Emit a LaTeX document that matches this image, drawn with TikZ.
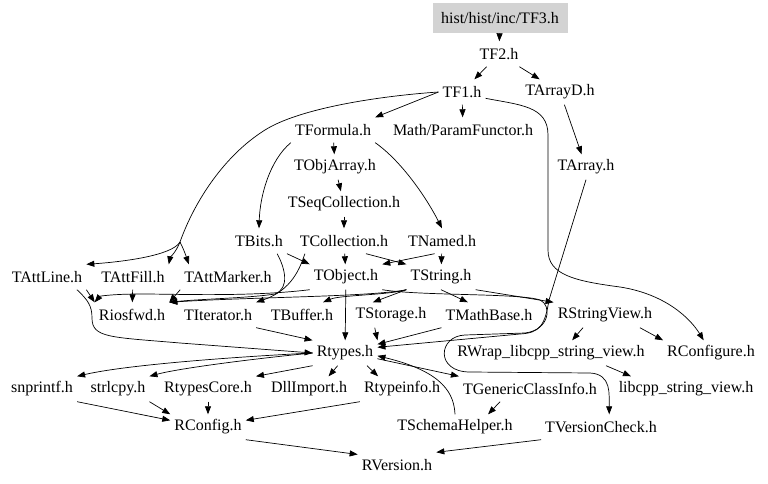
\documentclass[tikz,border=0pt]{standalone}
\usepackage{fontspec}
\setmainfont{Liberation Serif}
\usetikzlibrary{arrows.meta}
\definecolor{rootgray}{RGB}{211,211,211}

\begin{document}
\begin{tikzpicture}[x=1pt, y=-1pt,
  hdr/.style={font=\fontsize{16}{19}\selectfont, minimum height=25pt, inner xsep=4pt, inner ysep=0pt},
  roothdr/.style={hdr, fill=rootgray, minimum width=135pt, minimum height=30pt},
  dep/.style={-{Triangle[length=8pt,width=6pt]}, line width=0.7pt}]
  \useasboundingbox (0,0) rectangle (768,484);
  \fill[white] (0,0) rectangle (768,484);

  % headers
  \node[roothdr] (tfthree) at (500,18) {hist/hist/inc/TF3.h};
  \node[hdr] (tftwo) at (499,54) {TF2.h};
  \node[hdr] (tfone) at (462,92) {TF1.h};
  \node[hdr] (tarrayd) at (560,92) {TArrayD.h};
  \node[hdr] (tformula) at (333,130) {TFormula.h};
  \node[hdr] (paramfunctor) at (463,130) {Math/ParamFunctor.h};
  \node[hdr] (tobjarray) at (335,167) {TObjArray.h};
  \node[hdr] (tarray) at (586,167) {TArray.h};
  \node[hdr] (tseqcoll) at (344,204) {TSeqCollection.h};
  \node[hdr] (tbits) at (259,241) {TBits.h};
  \node[hdr] (tcoll) at (344,241) {TCollection.h};
  \node[hdr] (tnamed) at (442,241) {TNamed.h};
  \node[hdr] (tattline) at (47,277) {TAttLine.h};
  \node[hdr] (tattfill) at (133,277) {TAttFill.h};
  \node[hdr] (tattmarker) at (228,277) {TAttMarker.h};
  \node[hdr] (tobject) at (346,277) {TObject.h};
  \node[hdr] (tstring) at (441,277) {TString.h};
  \node[hdr] (riosfwd) at (132,315) {Riosfwd.h};
  \node[hdr] (titerator) at (218,315) {TIterator.h};
  \node[hdr] (tbuffer) at (302,315) {TBuffer.h};
  \node[hdr] (tstorage) at (391,315) {TStorage.h};
  \node[hdr] (tmathbase) at (489,315) {TMathBase.h};
  \node[hdr] (rstringview) at (605,315) {RStringView.h};
  \node[hdr] (rtypes) at (345,353) {Rtypes.h};
  \node[hdr] (rwrap) at (551,353) {RWrap\_libcpp\_string\_view.h};
  \node[hdr] (rconfigure) at (711,353) {RConfigure.h};
  \node[hdr] (snprintf) at (42,389) {snprintf.h};
  \node[hdr] (strlcpy) at (118,389) {strlcpy.h};
  \node[hdr] (rtypescore) at (208,389) {RtypesCore.h};
  \node[hdr] (dllimport) at (309,389) {DllImport.h};
  \node[hdr] (rtypeinfo) at (402,389) {Rtypeinfo.h};
  \node[hdr] (tgenclass) at (530,389) {TGenericClassInfo.h};
  \node[hdr] (libcpp) at (686,389) {libcpp\_string\_view.h};
  \node[hdr] (rconfig) at (208,427) {RConfig.h};
  \node[hdr] (tschema) at (455,427) {TSchemaHelper.h};
  \node[hdr] (tversioncheck) at (601,427) {TVersionCheck.h};
  \node[hdr] (rversion) at (397,465) {RVersion.h};

  % TF3, TF2, TF1
  \draw[dep] (tfthree) -- (tftwo);
  \draw[dep] (tftwo) -- (tfone);
  \draw[dep] (tftwo) -- (tarrayd);
  \draw[dep] (tarrayd) -- (tarray);
  \draw[dep] (tfone.west) -- (tformula.north east);
  \draw[dep] (tfone) -- (paramfunctor);
  \draw[dep] (tfone.-15) .. controls (520,105) and (548,106) .. (548,135) -- (548,250)
    .. controls (548,275) and (575,281) .. (620,287) .. controls (665,294) and (690,318) .. (rconfigure.120);
  % TF1 -> TAtt*, shared trunk
  \coordinate (attsplit) at (180,242);
  \draw[line width=0.7pt] (tfone.west) .. controls (380,96) and (300,108) .. (265,130)
    .. controls (225,155) and (195,200) .. (attsplit);
  \draw[dep] (attsplit) .. controls (172,256) and (120,262) .. (tattline.north east);
  \draw[dep] (attsplit) .. controls (176,252) and (170,258) .. (tattfill.north east);
  \draw[dep] (attsplit) .. controls (184,250) and (186,256) .. (tattmarker.162);

  % TFormula
  \draw[dep] (tformula) -- (tobjarray);
  \draw[dep] (tformula.south west) .. controls (270,160) and (260,195) .. (tbits.north);
  \draw[dep] (tformula.south east) .. controls (400,160) and (425,195) .. (tnamed.north);
  \draw[dep] (tobjarray) -- (tseqcoll);
  \draw[dep] (tseqcoll) -- (tcoll);

  % TBits, TCollection, TNamed
  \draw[dep] (tbits.south east) -- (tobject.north west);
  \draw[dep] (tbits.-35) .. controls (285,268) and (290,288) .. (275,294) .. controls (250,298) and (200,299) .. (riosfwd.north east);
  \draw[dep] (tcoll) -- (tobject);
  \draw[dep] (tcoll.-30) -- (tstring.north west);
  \draw[dep] (tcoll.-162) .. controls (300,268) and (292,290) .. (titerator.north east);
  \draw[dep] (tnamed.-120) -- (tobject.north east);
  \draw[dep] (tnamed) -- (tstring);

  % TAtt*
  \draw[dep] (tattline.south east) -- (riosfwd.north west);
  \draw[dep] (tattline.-23) .. controls (88,300) and (92,306) .. (92,318) .. controls (92,338) and (110,337) .. (180,343) -- (rtypes.west);
  \draw[dep] (tattfill) -- (riosfwd);
  \draw[dep] (tattmarker.south west) -- (riosfwd.north east);

  % TObject
  \draw[dep] (tobject) -- (rtypes);
  \draw[dep] (tobject.south west) .. controls (250,297) and (180,294) .. (140,294) .. controls (115,294) and (100,296) .. (riosfwd.north west);
  \draw[dep] (tobject.south east) .. controls (420,296) and (520,293) .. (540,300) .. controls (552,305) and (550,330) .. (525,333)
    -- (465,335) .. controls (438,336) and (435,372) .. (470,372) -- (590,373) .. controls (612,374) and (609,395) .. (tversioncheck.57);

  % TString
  \draw[dep] (tstring.south west) -- (tstorage.145);
  \draw[dep] (tstring.south west) .. controls (390,295) and (340,295) .. (tbuffer.31);
  \draw[dep] (tstring.south west) .. controls (370,297) and (250,297) .. (riosfwd.north east);
  \draw[dep] (tstring.south) -- (tmathbase.149);
  \draw[dep] (tstring.south east) -- (rstringview.north west);

  % into Rtypes
  \draw[dep] (tarray.south) -- (549,300) .. controls (545,325) and (540,333) .. (520,334) -- (rtypes.10);
  \draw[dep] (tmathbase.south west) -- (rtypes.15);
  \draw[dep] (tstorage.-142) -- (rtypes.north east);
  \draw[dep] (titerator.south east) -- (rtypes.north west);
  \draw[dep] (tschema.north) .. controls (454,395) and (445,372) .. (rtypes.-5);

  % RStringView
  \draw[dep] (rstringview.-150) -- (rwrap.31);
  \draw[dep] (rstringview.-20) -- (rconfigure.north west);
  \draw[dep] (rwrap.-13) -- (libcpp.167);

  % out of Rtypes
  \draw[dep] (rtypes.west) .. controls (250,356) and (130,364) .. (snprintf.north east);
  \draw[dep] (rtypes.west) .. controls (260,358) and (180,368) .. (strlcpy.north east);
  \draw[dep] (rtypes.south west) -- (rtypescore.north east);
  \draw[dep] (rtypes.-120) -- (dllimport.33);
  \draw[dep] (rtypes.-30) -- (rtypeinfo.152);
  \draw[dep] (rtypes.-10) -- (tgenclass.north west);
  \draw[dep] (tgenclass.-157) -- (tschema.21);

  % RConfig, RVersion
  \draw[dep] (snprintf.south east) -- (rconfig.170);
  \draw[dep] (strlcpy.south east) -- (rconfig.north west);
  \draw[dep] (rtypescore) -- (rconfig);
  \draw[dep] (rtypeinfo.south west) -- (rconfig.10);
  \draw[dep] (rconfig.south east) -- (rversion.165);
  \draw[dep] (tversioncheck.south west) -- (rversion.north east);
\end{tikzpicture}
\end{document}
